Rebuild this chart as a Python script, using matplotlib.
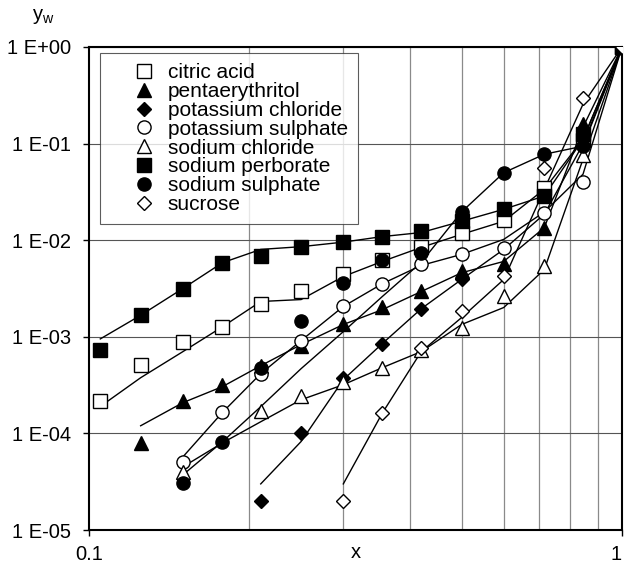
import numpy as np
import matplotlib
matplotlib.use('Agg')
import matplotlib.pyplot as plt
from matplotlib.ticker import FixedLocator, FixedFormatter, NullLocator

plt.rcParams['font.family'] = ['Liberation Sans', 'DejaVu Sans']

nan = np.nan
x = [0.105, 0.125, 0.15, 0.178, 0.21, 0.25, 0.30, 0.355, 0.42, 0.50, 0.60, 0.715, 0.845, 1.0]

names = ['citric acid', 'pentaerythritol', 'potassium chloride', 'potassium sulphate',
         'sodium chloride', 'sodium perborate', 'sodium sulphate', 'sucrose']

# experimental points (markers)
citric_exp = [2.14e-4, 5.15e-4, 8.8e-4, 1.27e-3, 2.19e-3, 2.97e-3, 4.42e-3, 6.17e-3, 8.57e-3, 1.18e-2, 1.60e-2, 3.51e-2, 0.11, 1.0]
penta_exp = [nan, 8.05e-5, 2.14e-4, 3.14e-4, 5.02e-4, 8.1e-4, 1.37e-3, 2.04e-3, 2.97e-3, 4.75e-3, 5.71e-3, 1.35e-2, 0.159, 1.0]
kcl_exp = [nan, nan, nan, nan, 2.01e-5, 1.01e-4, 3.77e-4, 8.5e-4, 1.95e-3, 3.92e-3, nan, nan, 0.141, 1.0]
k2so4_exp = [nan, nan, 5.11e-5, 1.65e-4, 4.15e-4, 9.14e-4, 2.07e-3, 3.54e-3, 5.61e-3, 7.13e-3, 8.36e-3, 1.90e-2, 4.01e-2, 1.0]
nacl_exp = [nan, nan, 4.02e-5, nan, 1.72e-4, 2.43e-4, 3.37e-4, 4.76e-4, 7.37e-4, 1.24e-3, 2.66e-3, 5.38e-3, 0.0758, 1.0]
perb_exp = [7.37e-4, 1.67e-3, 3.16e-3, 5.85e-3, 6.84e-3, 8.57e-3, 9.55e-3, 1.09e-2, 1.24e-2, 1.58e-2, 2.09e-2, 2.87e-2, 0.125, 1.0]
na2so4_exp = [nan, nan, 3.05e-5, 8.24e-5, 4.79e-4, 1.45e-3, 3.62e-3, 6.17e-3, 7.41e-3, 1.96e-2, 5.0e-2, 7.76e-2, 0.094, 1.0]
sucrose_exp = [nan, nan, nan, nan, nan, nan, 2.01e-5, 1.62e-4, 7.67e-4, 1.84e-3, 4.25e-3, 5.65e-2, 0.30, 1.0]

# model curves (lines)
citric_mod = [1.90e-4, 3.77e-4, 7.02e-4, 1.27e-3, 2.32e-3, 2.43e-3, 4.21e-3, 6.03e-3, 8.42e-3, 1.15e-2, 1.57e-2, 3.37e-2, 0.111, 1.0]
penta_mod = [nan, 1.20e-4, 2.08e-4, 3.05e-4, 5.02e-4, 8.3e-4, 1.34e-3, 1.91e-3, 2.94e-3, 4.6e-3, 6.03e-3, 1.35e-2, 0.148, 1.0]
kcl_mod = [nan, nan, nan, nan, 3.0e-5, 8.24e-5, 3.6e-4, 8.5e-4, 1.95e-3, 3.92e-3, 8.03e-3, 1.86e-2, 0.0986, 1.0]
k2so4_mod = [nan, nan, 5.71e-5, 1.65e-4, 4.15e-4, 9.14e-4, 2.06e-3, 3.54e-3, 5.48e-3, 7.13e-3, 1.02e-2, 1.96e-2, 4.82e-2, 1.0]
nacl_mod = [nan, nan, 4.50e-5, 7.98e-5, 1.32e-4, 2.23e-4, 3.19e-4, 4.79e-4, 7.02e-4, 1.34e-3, 2.01e-3, 4.98e-3, 0.0689, 1.0]
perb_mod = [9.51e-4, 1.67e-3, 3.16e-3, 5.85e-3, 8.03e-3, 8.57e-3, 9.55e-3, 1.09e-2, 1.2e-2, 1.57e-2, 2.09e-2, 2.87e-2, 0.111, 1.0]
na2so4_mod = [nan, nan, 3.72e-5, 8.2e-5, 1.89e-4, 4.68e-4, 1.13e-3, 2.61e-3, 5.89e-3, 1.96e-2, 5.0e-2, 7.76e-2, 0.094, 1.0]
sucrose_mod = [nan, nan, nan, nan, nan, nan, 3.0e-5, 1.62e-4, 7.02e-4, 1.58e-3, 3.92e-3, 3.37e-2, 0.256, 1.0]

exp_series = [citric_exp, penta_exp, kcl_exp, k2so4_exp, nacl_exp, perb_exp, na2so4_exp, sucrose_exp]
mod_series = [citric_mod, penta_mod, kcl_mod, k2so4_mod, nacl_mod, perb_mod, na2so4_mod, sucrose_mod]

markers = ['s', '^', 'D', 'o', '^', 's', 'o', 'D']
filled = [False, True, True, False, False, True, True, False]
msizes = [9.5, 10, 7, 9.5, 10, 9.5, 9.5, 7]

xticks = [0.1, 1.0]
xtick_labels = ['0.1', '1']
xgrid = [0.2, 0.3, 0.4, 0.5, 0.6, 0.7, 0.8, 0.9]
yticks = [1e-5, 1e-4, 1e-3, 1e-2, 1e-1, 1.0]
ytick_labels = ['1 E-05', '1 E-04', '1 E-03', '1 E-02', '1 E-01', '1 E+00']

fig = plt.figure(figsize=(6.24, 5.66), dpi=100)
ax = fig.add_axes([89/624, 36/566, 533/624, 483/566])
ax.set_xscale('log')
ax.set_yscale('log')
ax.set_xlim(0.1, 1.0)
ax.set_ylim(1e-5, 1.0)

for m in mod_series:
    ax.plot(x, m, color='black', lw=1.0, zorder=3)

for i, (e, mk, f, ms) in enumerate(zip(exp_series, markers, filled, msizes)):
    ax.plot(x, e, ls='none', marker=mk, ms=ms, mew=1.0,
            mec='black', mfc='black' if f else 'white', label=names[i], zorder=4)

ax.xaxis.set_major_locator(FixedLocator(xticks))
ax.xaxis.set_major_formatter(FixedFormatter(xtick_labels))
ax.xaxis.set_minor_locator(FixedLocator(xgrid))
ax.xaxis.set_minor_formatter(FixedFormatter([''] * len(xgrid)))
ax.yaxis.set_major_locator(FixedLocator(yticks))
ax.yaxis.set_major_formatter(FixedFormatter(ytick_labels))
ax.yaxis.set_minor_locator(NullLocator())

ax.grid(which='minor', axis='x', color='#8a8a8a', lw=0.9)
ax.grid(which='major', axis='y', color='#555555', lw=0.8)
ax.set_axisbelow(True)

ax.tick_params(axis='both', which='major', direction='out', length=4, width=1,
               labelsize=14.5, colors='black')
ax.tick_params(axis='x', which='major', pad=7)
ax.tick_params(axis='y', which='major', pad=9)
ax.tick_params(axis='x', which='minor', length=0)

for s in ax.spines.values():
    s.set_linewidth(1.5)
    s.set_color('black')

ax.set_xlabel('x', fontsize=14.5)
ax.xaxis.set_label_coords(0.5, -0.026)
ax.set_ylabel(r'$\mathregular{y_w}$', fontsize=14.5, rotation=0, ha='center', va='center')
ax.yaxis.set_label_coords(-0.086, 1.064)

leg = ax.legend(loc='upper left', bbox_to_anchor=(11/533, 1 - 6/483), borderaxespad=0,
                frameon=True, fancybox=False, fontsize=15, numpoints=1,
                handlelength=3.2, handletextpad=-0.45, labelspacing=-0.01,
                borderpad=0.5)
leg.get_frame().set_edgecolor('#333333')
leg.get_frame().set_linewidth(0.8)
leg.set_zorder(5)

fig.canvas.draw()
ax.get_xticklabels()[-1].set_horizontalalignment('right')
ax.get_xticklabels()[-1].set_x(1.0)

fig.savefig('out.png', dpi=100)
